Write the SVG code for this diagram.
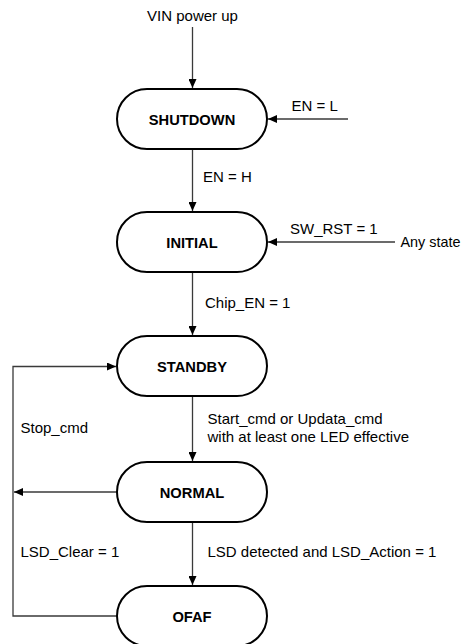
<svg xmlns="http://www.w3.org/2000/svg" width="462" height="644" viewBox="0 0 462 644">
<defs>
<style>
.node{fill:#fff;stroke:#000;stroke-width:2}
.nl{font-family:"Liberation Sans",Arial,sans-serif;font-size:14.7px;font-weight:bold;text-anchor:middle;fill:#000}
.lbl{font-family:"Liberation Sans",Arial,sans-serif;font-size:15px;fill:#000}
.edge{fill:none;stroke:#3a3a3a;stroke-width:1.3}
</style>
<marker id="ah" markerWidth="9" markerHeight="8" refX="9" refY="4" orient="auto" markerUnits="userSpaceOnUse">
<path d="M0,0 L9,4 L0,8 Z" fill="#000"/>
</marker>
</defs>
<rect width="462" height="644" fill="#fff"/>
<g id="connectors">
<path class="edge" d="M192.5,27 V88" marker-end="url(#ah)"/>
<path class="edge" d="M348,119 H268" marker-end="url(#ah)"/>
<path class="edge" d="M192.5,149 V211" marker-end="url(#ah)"/>
<path class="edge" d="M395,242 H268" marker-end="url(#ah)"/>
<path class="edge" d="M192.5,272 V335" marker-end="url(#ah)"/>
<path class="edge" d="M192.5,396 V461" marker-end="url(#ah)"/>
<path class="edge" d="M192.5,522 V585" marker-end="url(#ah)"/>
<path class="edge" d="M117,492 H14" marker-end="url(#ah)"/>
<path class="edge" d="M117,616 H13 V366.5 H116" marker-end="url(#ah)"/>
</g>
<g id="labels">
<text class="lbl" x="192.5" y="20.5" text-anchor="middle">VIN power up</text>
<text class="lbl" x="291.5" y="111">EN = L</text>
<text class="lbl" x="203" y="181.5">EN = H</text>
<text class="lbl" x="290" y="234">SW_RST = 1</text>
<text class="lbl" x="400.5" y="246.5" style="font-size:14.4px">Any state</text>
<text class="lbl" x="205" y="308">Chip_EN = 1</text>
<text class="lbl" x="207.5" y="424">Start_cmd or Updata_cmd</text>
<text class="lbl" x="207.5" y="441.5">with at least one LED effective</text>
<text class="lbl" x="20.5" y="432.5">Stop_cmd</text>
<text class="lbl" x="20.5" y="557">LSD_Clear = 1</text>
<text class="lbl" x="207.5" y="557">LSD detected and LSD_Action = 1</text>
</g>
<g id="shutdown"><rect class="node" x="117" y="89" width="150" height="60" rx="30"/><text class="nl" x="192" y="124.5">SHUTDOWN</text></g>
<g id="initial"><rect class="node" x="117" y="212" width="150" height="60" rx="30"/><text class="nl" x="192" y="247.5">INITIAL</text></g>
<g id="standby"><rect class="node" x="117" y="336" width="150" height="60" rx="30"/><text class="nl" x="192" y="371.5">STANDBY</text></g>
<g id="normal"><rect class="node" x="117" y="462" width="150" height="60" rx="30"/><text class="nl" x="192" y="497.5">NORMAL</text></g>
<g id="ofaf"><rect class="node" x="117" y="586" width="150" height="60" rx="30"/><text class="nl" x="192" y="621.5">OFAF</text></g>
</svg>
